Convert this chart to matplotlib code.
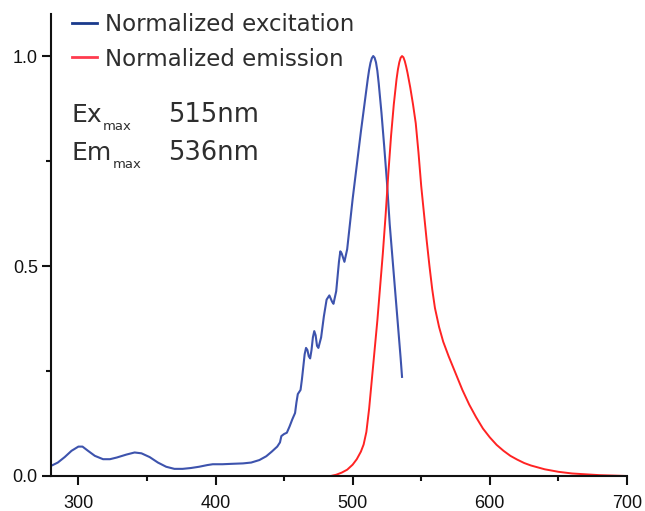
import numpy as np
import matplotlib.pyplot as plt
from matplotlib.lines import Line2D

# excitation spectrum (wavelength nm, normalized intensity)
ex_wl = [280, 285, 290, 295, 300, 303, 307, 312, 318, 323, 328, 335, 341, 346,
         352, 358, 364, 370, 376, 382, 388, 394, 398, 405, 412, 420, 426, 432,
         437, 441, 445, 447, 448, 450, 452, 454, 456, 458, 459, 460, 462, 463,
         464, 465, 466, 467, 468, 469, 470, 471, 472, 473, 474, 475, 477, 479,
         481, 483, 485, 486, 488, 490, 491, 492, 494, 496, 498, 500, 503, 506,
         508, 510, 511, 512, 513, 514, 515, 516, 517, 518, 519, 521, 523, 525,
         527, 529, 531, 533, 535, 536]
ex_val = [0.024, 0.032, 0.045, 0.060, 0.070, 0.070, 0.060, 0.048, 0.040, 0.040,
          0.044, 0.051, 0.056, 0.054, 0.045, 0.032, 0.022, 0.017, 0.017, 0.019,
          0.022, 0.026, 0.028, 0.028, 0.029, 0.030, 0.032, 0.038, 0.047, 0.058,
          0.070, 0.080, 0.095, 0.100, 0.103, 0.118, 0.135, 0.150, 0.175, 0.195,
          0.205, 0.230, 0.260, 0.290, 0.305, 0.300, 0.285, 0.280, 0.300, 0.330,
          0.345, 0.335, 0.310, 0.305, 0.330, 0.380, 0.420, 0.430, 0.415, 0.410,
          0.440, 0.510, 0.535, 0.530, 0.510, 0.540, 0.600, 0.660, 0.740, 0.820,
          0.870, 0.920, 0.945, 0.967, 0.984, 0.995, 1.000, 0.996, 0.985, 0.965,
          0.935, 0.865, 0.785, 0.700, 0.600, 0.520, 0.440, 0.360, 0.280, 0.236]

# emission spectrum
em_wl = [484, 488, 492, 496, 500, 503, 506, 508, 510, 512, 514, 516, 518, 520,
         522, 524, 526, 528, 530, 531, 532, 533, 534, 535, 536, 537, 538, 539,
         540, 542, 544, 546, 548, 550, 552, 554, 556, 558, 560, 563, 566, 570,
         575, 580, 585, 590, 595, 600, 605, 610, 615, 620, 625, 630, 640, 650,
         660, 670, 680, 690, 700]
em_val = [0.000, 0.003, 0.008, 0.015, 0.027, 0.040, 0.058, 0.075, 0.105, 0.160,
          0.230, 0.300, 0.370, 0.450, 0.530, 0.620, 0.720, 0.810, 0.885, 0.915,
          0.945, 0.968, 0.985, 0.996, 1.000, 0.997, 0.988, 0.975, 0.960, 0.925,
          0.885, 0.840, 0.770, 0.690, 0.625, 0.560, 0.500, 0.445, 0.400, 0.355,
          0.320, 0.285, 0.245, 0.205, 0.170, 0.140, 0.113, 0.092, 0.074, 0.060,
          0.048, 0.039, 0.031, 0.025, 0.016, 0.010, 0.006, 0.004, 0.002, 0.001,
          0.000]

labels = ['Normalized excitation', 'Normalized emission']
ex_max = '515nm'
em_max = '536nm'

txt_font = 'DejaVu Sans'
txt_col = '#2e2e2e'

fig = plt.figure(figsize=(6.45, 5.11), dpi=100)
ax = fig.add_axes([0.079, 0.0685, 0.893, 0.904])

ax.plot(ex_wl, ex_val, color='#3d53ad', lw=1.5)
ax.plot(em_wl, em_val, color='#ff2323', lw=1.4)

ax.set_xlim(280, 700)
ax.set_ylim(0, 1.1)
ax.set_xticks([300, 400, 500, 600, 700])
ax.set_xticks([350, 450, 550, 650], minor=True)
ax.set_yticks([0.0, 0.5, 1.0])
ax.set_yticklabels(['0.0', '0.5', '1.0'])
ax.set_yticks([0.25, 0.75], minor=True)

for s in ['top', 'right']:
    ax.spines[s].set_visible(False)
for s in ['left', 'bottom']:
    ax.spines[s].set_linewidth(1.5)
    ax.spines[s].set_color('#111111')

ax.tick_params(which='major', length=6.5, width=1.5, direction='out',
               labelsize=13, pad=3, colors='#111111')
ax.tick_params(which='minor', length=3.5, width=1.5, direction='out', colors='#111111')
ax.tick_params(axis='x', which='major', pad=7)
for lab in ax.get_xticklabels() + ax.get_yticklabels():
    lab.set_fontfamily('Liberation Sans')

handles = [Line2D([], [], color='#1a3a8c', lw=2),
           Line2D([], [], color='#ff3b4e', lw=2)]
leg = ax.legend(handles, labels, loc='upper left', bbox_to_anchor=(0.021, 1.022),
                frameon=False, handlelength=1.1, handletextpad=0.35,
                labelspacing=0.5, borderaxespad=0,
                prop={'family': txt_font, 'size': 16.5})
for t in leg.get_texts():
    t.set_color(txt_col)

def px(x, y):
    return x / 645, (511 - y) / 511

fig.text(*px(72, 122), 'Ex', fontsize=18, family=txt_font, color=txt_col, va='baseline')
fig.text(*px(103, 130), 'max', fontsize=9.5, family=txt_font, color=txt_col, va='baseline')
fig.text(*px(168, 122), ex_max, fontsize=18.5, family=txt_font, color=txt_col, va='baseline')
fig.text(*px(72, 160), 'Em', fontsize=18, family=txt_font, color=txt_col, va='baseline')
fig.text(*px(113, 168), 'max', fontsize=9.5, family=txt_font, color=txt_col, va='baseline')
fig.text(*px(168, 160), em_max, fontsize=18.5, family=txt_font, color=txt_col, va='baseline')

fig.savefig('out.png', dpi=100)
